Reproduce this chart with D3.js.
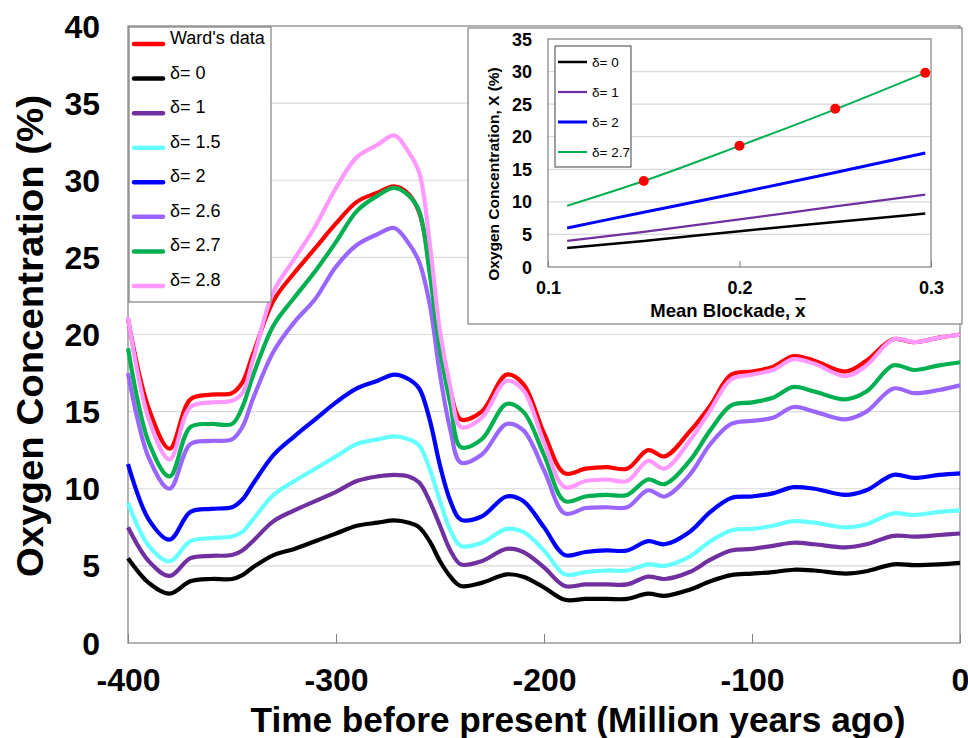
<!DOCTYPE html>
<html><head><meta charset="utf-8">
<script src="https://cdn.jsdelivr.net/npm/d3@7"></script>
<style>
body{margin:0;background:#fff;}
svg{display:block;font-family:"Liberation Sans",Arial,sans-serif;}
</style>
</head><body>
<svg id="c" width="968" height="738"></svg>
<script>
// ---------- main chart data ----------
const times = [-400,-390,-380,-370,-360,-350,-345,-340,-330,-320,-310,-300,-290,-280,-272,-265,-260,-255,-250,-245,-240,-230,-218,-210,-200,-190,-180,-170,-160,-150,-142,-130,-120,-110,-100,-90,-80,-70,-55,-45,-32,-22,-10,0];
const wardData = [21.0,15.2,12.6,15.8,16.1,16.2,16.9,18.7,22.2,24.0,25.6,27.2,28.6,29.2,29.6,29.1,27.9,24.5,19.7,16.4,14.5,15.0,17.4,16.8,13.6,11.0,11.3,11.4,11.3,12.5,12.1,13.7,15.4,17.4,17.6,17.9,18.6,18.3,17.6,18.3,19.7,19.5,19.8,20.0];
const delta0 = [5.5,3.9,3.2,4.0,4.15,4.15,4.4,4.9,5.7,6.1,6.6,7.1,7.6,7.8,7.95,7.8,7.5,6.6,5.3,4.3,3.7,3.9,4.45,4.3,3.6,2.8,2.86,2.86,2.86,3.2,3.05,3.45,4.0,4.4,4.5,4.6,4.75,4.7,4.5,4.65,5.1,5.05,5.1,5.2];
const delta1 = [7.5,5.3,4.35,5.5,5.65,5.7,6.0,6.6,7.9,8.6,9.2,9.8,10.5,10.8,10.9,10.8,10.4,9.2,7.6,6.0,5.1,5.3,6.1,5.9,4.9,3.7,3.8,3.8,3.8,4.3,4.15,4.6,5.4,6.0,6.1,6.3,6.5,6.4,6.2,6.4,6.95,6.9,7.0,7.1];
const delta15 = [9.1,6.3,5.3,6.6,6.8,6.9,7.2,8.0,9.6,10.5,11.3,12.1,12.9,13.2,13.4,13.2,12.8,11.3,9.2,7.3,6.3,6.5,7.4,7.2,6.0,4.45,4.6,4.7,4.7,5.1,5.0,5.6,6.6,7.3,7.4,7.6,7.9,7.8,7.5,7.7,8.4,8.3,8.5,8.6];
const delta2 = [11.6,8.0,6.7,8.5,8.7,8.8,9.3,10.3,12.2,13.4,14.5,15.6,16.5,17.0,17.4,17.1,16.5,14.5,11.5,9.2,8.0,8.2,9.5,9.2,7.5,5.7,5.9,6.0,6.0,6.6,6.4,7.2,8.5,9.4,9.5,9.7,10.1,10.0,9.6,9.9,10.9,10.7,10.9,11.0];
const delta26 = [17.5,12.0,10.0,12.9,13.1,13.2,14.0,15.8,18.9,20.8,22.3,24.4,25.8,26.5,26.9,25.9,24.7,22.0,17.4,13.8,11.7,12.2,14.2,13.8,11.2,8.4,8.75,8.8,8.8,9.9,9.5,10.9,12.9,14.2,14.4,14.6,15.3,15.0,14.5,15.0,16.5,16.2,16.4,16.7];
const delta27 = [19.1,13.0,10.8,14.0,14.2,14.2,15.3,17.3,20.6,22.4,24.1,26.0,28.0,29.0,29.5,29.0,28.0,24.0,19.0,15.5,12.7,13.2,15.5,15.0,12.2,9.2,9.5,9.6,9.6,10.6,10.3,11.8,13.8,15.4,15.6,15.9,16.6,16.3,15.8,16.3,18.0,17.7,18.0,18.2];
const delta28 = [21.1,14.5,11.9,15.3,15.6,15.7,16.2,18.3,22.8,24.9,27.0,29.5,31.5,32.3,32.9,31.8,30.5,26.0,20.2,16.6,14.0,14.6,17.0,16.4,13.0,10.1,10.5,10.6,10.5,11.8,11.3,13.1,15.1,17.1,17.4,17.7,18.4,18.1,17.3,18.0,19.7,19.5,19.8,20.0];
const seriesNames = ["Ward's data","δ= 0","δ= 1","δ= 1.5","δ= 2","δ= 2.6","δ= 2.7","δ= 2.8"];
const seriesColors = ["#ff0000","#000000","#7030a0","#66ffff","#0000ff","#9966ff","#00b050","#ff99ff"];
const xTicks = [-400,-300,-200,-100,0];
const xTickLabels = ["-400","-300","-200","-100","0"];
const yTicks = [0,5,10,15,20,25,30,35,40];

// ---------- inset data ----------
const insetX = [0.11,0.15,0.2,0.25,0.297];
const insetD0 = [2.9,4.0,5.5,6.9,8.2];
const insetD1 = [4.0,5.4,7.3,9.3,11.1];
const insetD2 = [6.0,8.4,11.4,14.5,17.5];
const insetD27 = [9.4,13.2,18.6,24.2,29.8];
const wardPointsX = [0.15,0.2,0.25,0.297];
const wardPointsY = [13.2,18.6,24.3,29.8];
const insetNames = ["δ= 0","δ= 1","δ= 2","δ= 2.7"];
const insetColors = ["#000000","#7030a0","#0000ff","#00b050"];
const insetWidths = [2.5,2.2,3,2];
const insetXTicks = [0.1,0.2,0.3];
const insetYTicks = [0,5,10,15,20,25,30,35];

const svg = d3.select("#c");
const L=128,R=960,T=26,B=643;
const x = d3.scaleLinear().domain([-400,0]).range([L,R]);
const y = d3.scaleLinear().domain([0,40]).range([B,T]);

// gridlines
svg.append("g").selectAll("line").data(yTicks.filter(v=>v>0&&v<40)).join("line")
  .attr("x1",L).attr("x2",R).attr("y1",d=>y(d)).attr("y2",d=>y(d))
  .attr("stroke","#d9d9d9").attr("stroke-width",1.2);

// x axis
const xa = svg.append("g").attr("transform",`translate(0,${B})`)
  .call(d3.axisBottom(x).tickValues(xTicks).tickSizeInner(-9).tickSizeOuter(0).tickFormat((d,i)=>xTickLabels[i]));
xa.select(".domain").remove();
xa.selectAll("line").attr("stroke","#808080");
xa.selectAll("text").attr("y",37).attr("dy",0).attr("dominant-baseline","central")
  .attr("font-size",32).attr("font-weight","bold").attr("fill","#000");
// y axis
const ya = svg.append("g").attr("transform",`translate(${L},0)`)
  .call(d3.axisLeft(y).tickValues(yTicks).tickSize(0).tickPadding(28));
ya.select(".domain").remove();
ya.selectAll("text").attr("dy",0).attr("dominant-baseline","central")
  .attr("font-size",32).attr("font-weight","bold").attr("fill","#000");

// plot border
svg.append("rect").attr("x",L).attr("y",T).attr("width",R-L).attr("height",B-T)
  .attr("fill","none").attr("stroke","#808080").attr("stroke-width",1.2);

// lines
const allSeries = [wardData,delta0,delta1,delta15,delta2,delta26,delta27,delta28];
const line = d3.line().x((d,i)=>x(times[i])).y(d=>y(d)).curve(d3.curveCatmullRom.alpha(0.5));
svg.append("g").selectAll("path").data(allSeries).join("path")
  .attr("d",d=>line(d)).attr("fill","none")
  .attr("stroke",(d,i)=>seriesColors[i]).attr("stroke-width",4.2)
  .attr("stroke-linejoin","round");

// axis titles
svg.append("text").attr("x",578).attr("y",719).attr("text-anchor","middle")
  .attr("dominant-baseline","central").attr("font-size",35).attr("font-weight","bold")
  .attr("textLength",655).attr("lengthAdjust","spacingAndGlyphs")
  .text("Time before present (Million years ago)");
svg.append("text").attr("transform","translate(30,336) rotate(-90)").attr("text-anchor","middle")
  .attr("dominant-baseline","central").attr("font-size",36).attr("font-weight","bold")
  .attr("textLength",482).attr("lengthAdjust","spacingAndGlyphs")
  .text("Oxygen Concentration (%)");

// legend
const lg = svg.append("g");
lg.append("rect").attr("x",129).attr("y",27).attr("width",142).attr("height",275)
  .attr("fill","#fff").attr("stroke","#808080").attr("stroke-width",1.2);
const ly = d3.scaleLinear().domain([0,7]).range([44,286]);
seriesNames.forEach((n,i)=>{
  lg.append("line").attr("x1",134).attr("x2",163).attr("y1",ly(i)).attr("y2",ly(i))
    .attr("stroke",seriesColors[i]).attr("stroke-width",4.5).attr("stroke-linecap","round");
  lg.append("text").attr("x",170).attr("y",ly(i)).attr("font-size",18).attr("fill","#000").text(n);
});

// ---------- inset ----------
const ig = svg.append("g");
ig.append("rect").attr("x",468).attr("y",28).attr("width",494).attr("height",296)
  .attr("fill","#fff").attr("stroke","#808080").attr("stroke-width",1.2);
const xi = d3.scaleLinear().domain([0.1,0.3]).range([548,931]);
const yi = d3.scaleLinear().domain([0,35]).range([267,39]);
ig.append("g").selectAll("line").data(insetYTicks.filter(v=>v>0&&v<35)).join("line")
  .attr("x1",548).attr("x2",931).attr("y1",d=>yi(d)).attr("y2",d=>yi(d))
  .attr("stroke","#d9d9d9").attr("stroke-width",1.2);
const ixa = ig.append("g").attr("transform","translate(0,267)")
  .call(d3.axisBottom(xi).tickValues(insetXTicks).tickSizeInner(-6).tickSizeOuter(0).tickFormat(d3.format(".1f")));
ixa.select(".domain").remove();
ixa.selectAll("line").attr("stroke","#808080");
ixa.selectAll("text").attr("y",21).attr("dy",0).attr("dominant-baseline","central")
  .attr("font-size",18).attr("font-weight","bold").attr("fill","#000");
const iya = ig.append("g").attr("transform","translate(548,0)")
  .call(d3.axisLeft(yi).tickValues(insetYTicks).tickSize(0).tickPadding(16));
iya.select(".domain").remove();
iya.selectAll("text").attr("dy",0).attr("dominant-baseline","central")
  .attr("font-size",18).attr("font-weight","bold").attr("fill","#000");
ig.append("rect").attr("x",548).attr("y",39).attr("width",383).attr("height",228)
  .attr("fill","none").attr("stroke","#808080").attr("stroke-width",1.2);
const iline = d3.line().x((d,i)=>xi(insetX[i])).y(d=>yi(d)).curve(d3.curveMonotoneX);
ig.append("g").selectAll("path").data([insetD0,insetD1,insetD2,insetD27]).join("path")
  .attr("d",d=>iline(d)).attr("fill","none")
  .attr("stroke",(d,i)=>insetColors[i]).attr("stroke-width",(d,i)=>insetWidths[i]);
ig.append("g").selectAll("circle").data(wardPointsX).join("circle")
  .attr("cx",d=>xi(d)).attr("cy",(d,i)=>yi(wardPointsY[i])).attr("r",5).attr("fill","#ff0000");
// inset legend
ig.append("rect").attr("x",555).attr("y",46).attr("width",76).attr("height",121)
  .attr("fill","#fff").attr("stroke","#404040").attr("stroke-width",1);
const ily = d3.scaleLinear().domain([0,3]).range([62,152]);
insetNames.forEach((n,i)=>{
  ig.append("line").attr("x1",558).attr("x2",587).attr("y1",ily(i)).attr("y2",ily(i))
    .attr("stroke",insetColors[i]).attr("stroke-width",insetWidths[i]);
  ig.append("text").attr("x",592).attr("y",ily(i)).attr("dominant-baseline","central")
    .attr("font-size",13.5).attr("fill","#000").text(n);
});
// inset axis titles
const ixt = ig.append("text").attr("x",728).attr("y",310).attr("text-anchor","middle")
  .attr("dominant-baseline","central").attr("font-size",18.5).attr("font-weight","bold");
ixt.append("tspan").text("Mean Blockade, ");
ixt.append("tspan").style("text-decoration","overline").text("x");
ig.append("text").attr("transform","translate(493,174) rotate(-90)").attr("text-anchor","middle")
  .attr("dominant-baseline","central").attr("font-size",15.5).attr("font-weight","bold")
  .text("Oxygen Concentration, X (%)");
</script>
</body></html>
